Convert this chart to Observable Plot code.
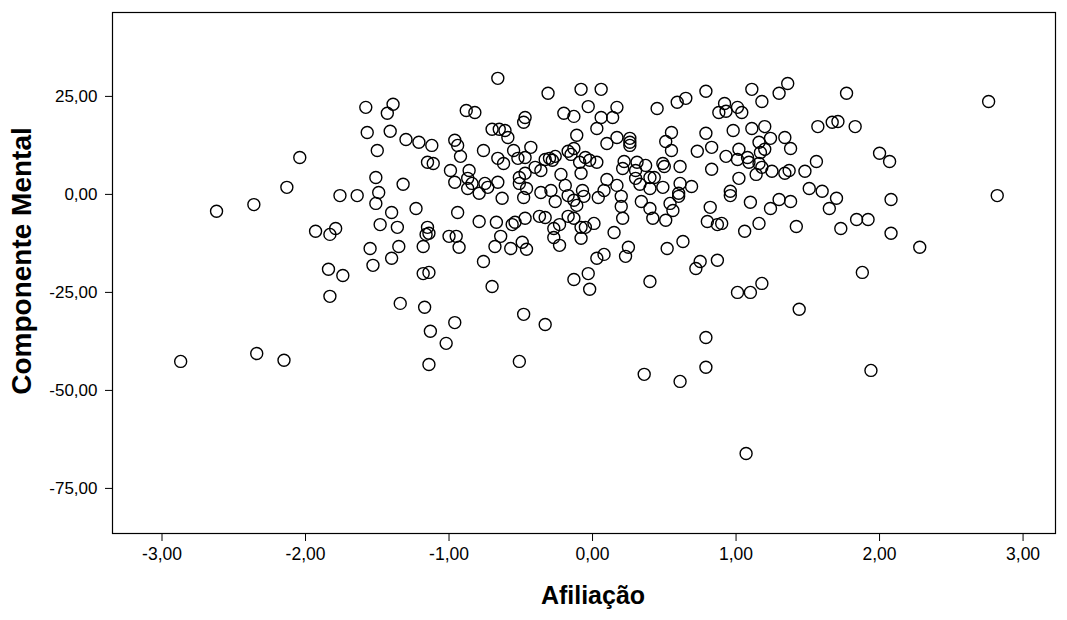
<!DOCTYPE html>
<html>
<head>
<meta charset="utf-8">
<script src="https://cdn.jsdelivr.net/npm/d3@7"></script>
<script src="https://cdn.jsdelivr.net/npm/@observablehq/plot@0.6"></script>
<style>
  html, body { margin: 0; padding: 0; background: #fff; }
  #chart svg { display: block; }
</style>
</head>
<body>
<div id="chart"></div>
<script>
const xTicks = [-3, -2, -1, 0, 1, 2, 3];
const yTicks = [25, 0, -25, -50, -75];
const xLabel = "Afiliação";
const yLabel = "Componente Mental";

const afiliacao = [
-2.04,-2.13,-2.36,-1.76,-2.62,-1.93,-1.79,-1.83,-1.84,-1.74,-1.83,-2.87,-2.34,-2.15,
-0.66,-0.31,-0.08,-1.58,-1.39,-1.43,-0.88,-0.82,-0.20,-0.13,-0.03,-0.47,-0.48,-1.57,-1.41,-0.70,
-0.65,-0.61,-0.59,-1.30,-1.21,-1.12,-0.96,-0.94,-0.11,-1.50,-0.76,-0.92,-0.55,-0.43,-0.47,-0.52,
-0.66,-0.62,-1.15,-1.11,-0.99,-0.86,-0.40,-0.36,-0.33,-0.30,-0.28,-0.26,-0.17,-0.15,-0.13,-0.09,
-0.05,-0.02,-0.08,-0.22,-0.19,-0.51,-0.47,-0.96,-0.87,-0.84,-0.87,-0.75,-0.73,-0.66,-0.51,-0.46,
-0.36,-0.29,-0.07,-0.06,-1.32,-1.51,-1.49,-1.64,-0.79,-0.63,-0.48,-0.17,
-1.51,-1.40,-1.23,-1.48,-1.36,-0.94,-0.79,-0.67,-0.56,-0.54,-0.47,-0.37,-0.33,-0.26,-1.15,-1.14,
-1.16,-1.00,-0.95,-0.93,-1.18,-1.35,-1.55,-1.53,-1.40,-0.64,-0.68,-0.57,-0.49,-0.46,-0.76,-1.18,
-1.14,-0.70,-1.34,-1.17,-0.96,-1.13,-0.48,-0.33,-0.27,-0.27,-0.23,-0.23,-0.17,-0.13,-0.13,-0.11,
-0.08,-0.08,-0.05,0.01,-0.13,-0.03,-0.02,0.03,-1.02,-1.14,-0.51,
0.79,0.36,0.61,0.79,1.07,
0.04,0.20,0.20,0.21,0.34,0.40,0.42,0.54,0.56,0.60,0.51,0.15,0.82,0.80,0.87,0.90,0.96,1.10,1.24,
1.30,1.38,1.65,1.06,1.16,1.42,0.25,0.23,0.08,0.52,0.63,0.75,0.72,0.87,0.40,1.01,1.10,1.18,1.44,
1.70,2.08,2.82,1.84,1.92,1.73,2.08,2.28,1.88,1.94,
1.77,2.76,1.67,1.71,1.83,2.00,2.07,
0.06,0.17,0.14,0.06,0.03,0.45,0.59,0.65,0.79,1.11,1.36,1.30,1.18,0.92,0.88,0.93,1.01,1.04,1.57,
0.55,0.51,0.55,0.26,0.26,0.26,0.17,0.10,0.79,0.98,1.11,1.20,1.16,1.24,1.34,1.38,1.20,1.17,0.83,
0.73,1.02,0.93,1.01,1.08,1.09,1.16,1.18,1.25,1.34,1.37,1.14,1.48,1.56,0.83,1.02,0.96,1.51,1.60,
0.61,0.69,0.61,0.60,0.49,0.49,0.50,0.22,0.21,0.31,0.30,0.37,0.40,0.43,0.30,0.10,0.17,0.08,0.33,
0.40,0.03
];

const componenteMental = [
9.4,1.8,-2.6,-0.3,-4.3,-9.4,-8.7,-10.2,-19.1,-20.7,-26.0,-42.6,-40.6,-42.3,
29.6,25.8,26.8,22.2,23.0,20.7,21.4,20.9,20.7,19.9,22.4,19.6,18.4,15.8,16.1,16.6,
16.6,16.3,14.5,14.0,13.3,12.5,13.8,12.5,15.1,11.2,11.2,9.7,11.2,12.0,9.4,9.2,
9.2,7.9,8.2,7.9,6.1,6.1,6.9,6.1,8.9,9.2,8.7,9.7,11.0,10.2,11.7,8.2,
9.4,8.7,5.4,5.1,2.3,4.3,5.4,3.1,4.1,2.8,1.5,2.8,1.8,3.1,2.8,1.5,
0.5,1.0,1.0,-0.5,2.6,4.3,0.5,-0.3,0.3,-1.0,-0.8,-0.3,
-2.3,-4.6,-3.6,-7.7,-8.4,-4.6,-6.9,-7.1,-7.7,-7.1,-6.1,-5.6,-5.9,-1.8,-8.4,-9.9,
-10.2,-10.7,-10.7,-13.5,-13.3,-13.3,-13.8,-18.1,-16.3,-10.7,-13.3,-13.8,-12.2,-14.0,-17.1,-20.2,
-19.9,-23.5,-27.8,-28.8,-32.7,-34.9,-30.6,-33.2,-8.7,-11.0,-13.0,-7.7,-5.6,-6.1,-1.5,-2.8,
-8.4,-11.2,-8.4,-7.4,-21.7,-20.2,-24.2,-16.3,-38.0,-43.4,-42.6,
-36.5,-45.9,-47.7,-44.1,-66.1,
-0.8,-0.5,-3.1,-6.1,-1.8,-3.6,-6.1,-2.3,-4.1,-0.5,-6.6,-9.7,-3.3,-6.9,-7.7,-7.4,-0.3,-2.0,-3.6,
-1.3,-1.8,-3.6,-9.4,-7.4,-8.2,-13.5,-15.8,-15.3,-13.8,-12.0,-17.1,-18.9,-16.8,-22.2,-25.0,-25.0,-22.7,-29.3,
-1.0,-1.3,-0.3,-6.4,-6.4,-8.7,-9.9,-13.5,-19.9,-44.9,
25.8,23.7,18.4,18.6,17.3,10.5,8.4,
26.8,22.2,19.6,19.6,16.8,21.9,23.5,24.5,26.3,26.8,28.3,25.8,23.7,23.2,20.9,21.2,22.2,20.9,17.3,
15.8,13.5,11.2,14.3,13.3,12.5,14.5,13.0,15.6,16.3,16.8,17.3,13.3,14.3,14.5,11.7,11.5,10.7,12.0,
11.0,11.5,9.7,8.9,9.4,8.2,7.9,6.9,5.9,5.4,6.1,5.1,5.9,8.4,6.4,4.1,0.8,1.5,0.8,
7.1,2.0,2.8,0.3,1.8,7.9,7.1,8.4,6.6,8.2,6.1,7.4,4.3,4.3,4.1,3.8,2.3,1.0,2.6,
1.5,8.2
];

const data = afiliacao.map((x, i) => ({x, y: componenteMental[i]}));
const fmt = d => d.toFixed(2).replace(".", ",");
const font = "'Liberation Sans', Arial, sans-serif";

const chart = Plot.plot({
  width: 1067,
  height: 620,
  marginLeft: 112,
  marginRight: 12,
  marginTop: 12,
  marginBottom: 87,
  style: {fontFamily: font, color: "black", background: "white"},
  x: {domain: [-3.345, 3.226]},
  y: {domain: [-86.5, 46.4]},
  marks: [
    Plot.frame({stroke: "black", strokeWidth: 1.2}),
    Plot.dot(data, {x: "x", y: "y", r: 6, stroke: "black", strokeWidth: 1.4, fill: "none"}),
    Plot.axisX({ticks: xTicks, tickFormat: fmt, tickSize: 8, tickPadding: 6, fontSize: 17.5, label: null}),
    Plot.axisY({ticks: yTicks, tickFormat: fmt, tickSize: 7, tickPadding: 8, fontSize: 17, label: null}),
    Plot.text([xLabel], {frameAnchor: "bottom", dx: 9, dy: 70, fontSize: 25, fontWeight: "bold", fill: "black"}),
    Plot.text([yLabel], {frameAnchor: "left", dx: -90, dy: -12, rotate: -90, textAnchor: "middle", fontSize: 28, fontWeight: "bold", fill: "black"})
  ]
});
document.getElementById("chart").appendChild(chart);
</script>
</body>
</html>
